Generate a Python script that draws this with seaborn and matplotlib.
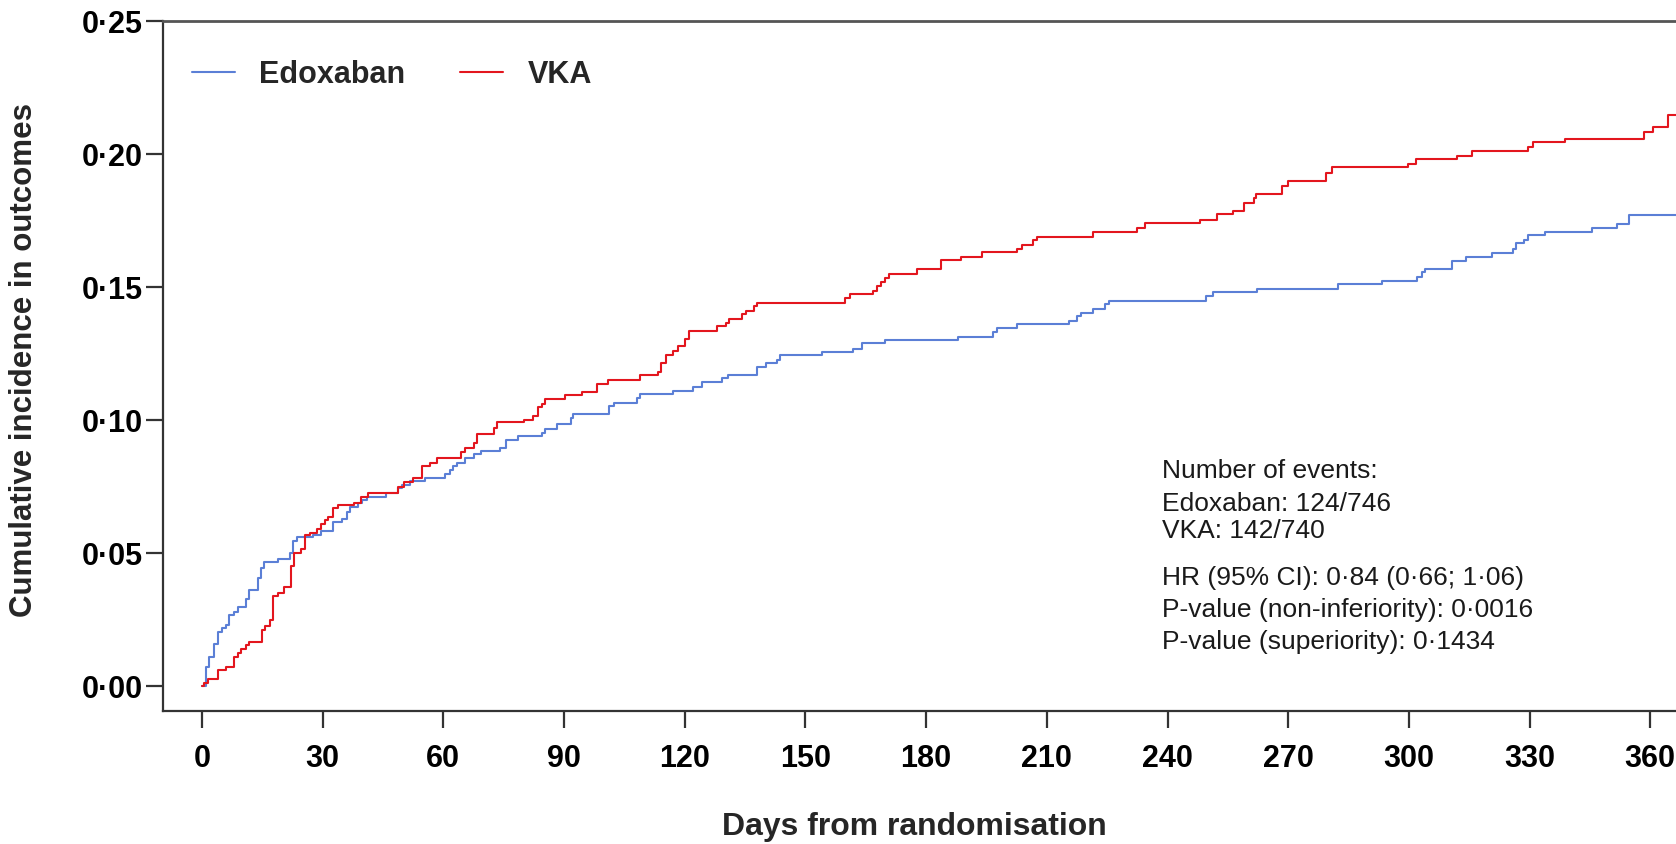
import matplotlib
matplotlib.use("Agg")
import matplotlib.pyplot as plt
import seaborn as sns
import pandas as pd
import numpy as np

# ---- data ----
edox_days = [0, 1.0, 1.7, 3.1, 3.9, 4.9, 6.0, 6.8, 8.0, 8.9, 10.9, 11.8, 13.8, 14.7, 15.5,
             18.8, 21.9, 22.7, 23.5, 27.7, 29.7, 32.6, 34.7, 36.0, 36.8, 38.9, 39.7, 41.0,
             45.7, 48.8, 49.6, 51.7, 55.4, 60.4, 61.6, 62.5, 63.5, 65.5, 67.7, 69.3, 74.2,
             75.5, 78.5, 84.5, 85.3, 88.2, 91.7, 92.3, 101.2, 102.4, 108.2, 109.0, 117.0,
             122.1, 124.2, 129.2, 130.8, 138.0, 140.2, 143.0, 143.8, 154.0, 161.9, 164.0,
             169.8, 187.8, 196.7, 197.5, 202.5, 215.5, 217.6, 218.5, 221.4, 224.5, 225.5,
             249.6, 251.2, 262.2, 282.3, 293.2, 301.9, 303.2, 304.0, 310.6, 314.1, 320.7,
             325.8, 326.6, 328.7, 329.5, 333.8, 345.4, 351.8, 354.7, 366.5]
edox_inc = [0.0, 0.0073, 0.0111, 0.0161, 0.0205, 0.022, 0.023, 0.0268, 0.028, 0.030, 0.0327,
            0.0364, 0.0408, 0.0446, 0.0466, 0.0477, 0.0503, 0.0547, 0.056, 0.0569, 0.0585,
            0.0616, 0.0628, 0.0656, 0.0675, 0.0688, 0.070, 0.0713, 0.0725, 0.0744, 0.0756,
            0.0771, 0.0782, 0.080, 0.0815, 0.0828, 0.084, 0.0857, 0.0872, 0.0884, 0.0897,
            0.0928, 0.0941, 0.0953, 0.0966, 0.0985, 0.101, 0.1023, 0.1055, 0.1067, 0.1085,
            0.1099, 0.1111, 0.1126, 0.1143, 0.1158, 0.1169, 0.1201, 0.1214, 0.1226, 0.1245,
            0.1258, 0.127, 0.1289, 0.1302, 0.1314, 0.1333, 0.1346, 0.1361, 0.1373, 0.1392,
            0.1404, 0.1417, 0.1437, 0.1448, 0.1467, 0.1481, 0.1494, 0.1512, 0.1525, 0.154,
            0.1556, 0.1569, 0.160, 0.1615, 0.1631, 0.1646, 0.1665, 0.1678, 0.1697, 0.1709,
            0.1722, 0.174, 0.1772, 0.1772]

vka_days = [0, 0.6, 1.4, 3.9, 6.0, 8.0, 8.9, 9.7, 10.9, 11.8, 14.8, 15.7, 16.9, 17.7, 19.0,
            20.5, 22.0, 22.9, 24.6, 25.6, 26.8, 28.5, 29.7, 30.6, 31.4, 32.6, 33.7, 37.8,
            39.4, 41.3, 48.8, 50.2, 52.5, 54.6, 56.7, 58.3, 64.5, 65.5, 67.6, 68.4, 72.7,
            73.4, 80.1, 82.2, 83.4, 84.5, 85.3, 90.2, 94.4, 98.3, 101.0, 109.0, 113.4,
            114.1, 115.3, 117.0, 118.4, 120.1, 121.1, 127.9, 130.2, 131.0, 134.3, 135.2,
            137.2, 138.0, 159.8, 161.2, 166.9, 167.7, 168.7, 169.8, 170.8, 177.8, 183.6,
            188.7, 193.8, 202.5, 203.8, 206.6, 207.6, 221.4, 232.3, 234.4, 248.2, 252.4,
            256.4, 259.1, 261.4, 262.0, 268.4, 270.0, 279.4, 281.0, 299.9, 301.8, 312.0,
            315.8, 329.5, 330.8, 338.8, 358.5, 360.6, 364.3, 366.5]
vka_inc = [0.0, 0.0012, 0.0026, 0.0061, 0.0073, 0.0111, 0.0127, 0.0142, 0.0155, 0.0167,
           0.0211, 0.0226, 0.0249, 0.0339, 0.0352, 0.0374, 0.0452, 0.050, 0.0518, 0.0569,
           0.0577, 0.059, 0.0609, 0.0625, 0.0637, 0.0669, 0.0681, 0.069, 0.071, 0.0725,
           0.075, 0.0769, 0.0782, 0.0828, 0.084, 0.0857, 0.0882, 0.0897, 0.0916, 0.0948,
           0.0972, 0.0992, 0.1003, 0.1017, 0.1049, 0.1061, 0.108, 0.1095, 0.1105, 0.1136,
           0.1151, 0.117, 0.1183, 0.1214, 0.1245, 0.126, 0.1279, 0.1304, 0.1336, 0.1354,
           0.1367, 0.138, 0.1398, 0.1411, 0.1431, 0.1443, 0.1461, 0.1475, 0.1486, 0.1505,
           0.1519, 0.1536, 0.1549, 0.1569, 0.1603, 0.1613, 0.1634, 0.1644, 0.1659, 0.1678,
           0.169, 0.1709, 0.1722, 0.1743, 0.1753, 0.1774, 0.1787, 0.1818, 0.1837, 0.1851,
           0.1882, 0.190, 0.1931, 0.1951, 0.1962, 0.1981, 0.1994, 0.2013, 0.2026, 0.2045,
           0.2056, 0.2083, 0.2104, 0.2148, 0.2148]

groups = ["Edoxaban", "VKA"]
x_ticks = [0, 30, 60, 90, 120, 150, 180, 210, 240, 270, 300, 330, 360]
y_ticks = [0.00, 0.05, 0.10, 0.15, 0.20, 0.25]
annotation_lines = ["Number of events:", "Edoxaban: 124/746", "VKA: 142/740",
                    "HR (95% CI): 0\u00b784 (0\u00b766; 1\u00b706)",
                    "P-value (non-inferiority): 0\u00b70016",
                    "P-value (superiority): 0\u00b71434"]

df = pd.concat([
    pd.DataFrame({"day": edox_days, "inc": edox_inc, "group": groups[0]}),
    pd.DataFrame({"day": vka_days, "inc": vka_inc, "group": groups[1]}),
], ignore_index=True)

# ---- styling ----
sns.set_theme(style="white")
plt.rcParams["font.family"] = ["Liberation Sans", "DejaVu Sans"]

W, H = 1676, 844
fig = plt.figure(figsize=(W / 100, H / 100), dpi=100)
ax = fig.add_axes([0.0970, 0.1578, 1.0 - 0.0970, 0.9747 - 0.1578])

palette = {"Edoxaban": "#5B7FD6", "VKA": "#E3161E"}
sns.lineplot(data=df, x="day", y="inc", hue="group", palette=palette,
             drawstyle="steps-post", linewidth=1.5, ax=ax, estimator=None,
             sort=False, legend=True)

ax.set_xlim(-9.8, 366.4)
ax.set_ylim(-0.0092, 0.25)
ax.set_xticks(x_ticks)
ax.set_yticks(y_ticks)
ax.set_xticklabels([str(t) for t in x_ticks], fontweight="bold", fontsize=22)
ax.set_yticklabels([f"{v:.2f}".replace(".", "\u00b7") for v in y_ticks],
                   fontweight="bold", fontsize=22)
ax.tick_params(axis="both", which="major", direction="out", length=12, width=1.6,
               color="#333333", labelcolor="black", left=True, bottom=True)
ax.tick_params(axis="x", pad=12)
ax.tick_params(axis="y", pad=2)

for side in ["left", "bottom"]:
    ax.spines[side].set_color("#333333")
    ax.spines[side].set_linewidth(1.6)
ax.spines["top"].set_color("#555555")
ax.spines["top"].set_linewidth(2.0)
ax.spines["right"].set_visible(False)

ax.set_xlabel("")
ax.set_ylabel("")
fig.text(24 / W, 1 - 360 / H, "Cumulative incidence in outcomes", rotation=90,
         ha="center", va="center", fontsize=22.5, fontweight="bold")
fig.text(914 / W, 1 - 835 / H, "Days from randomisation", ha="center", va="baseline",
         fontsize=23, fontweight="bold")

ax.legend(loc="center left", bbox_to_anchor=(0.0195, 0.922), ncol=2, frameon=False,
          borderpad=0, borderaxespad=0,
          handlelength=1.4, columnspacing=1.8, handletextpad=0.8,
          prop={"weight": "bold", "size": 22})

line_y = [471.4, 503.5, 531.2, 578.3, 610.4, 642.4]
for txt, yy in zip(annotation_lines, line_y):
    fig.text(1162 / W, 1 - yy / H, txt, ha="left", va="center", fontsize=19,
             color="#1a1a1a")

fig.savefig("out.png", dpi=100)
